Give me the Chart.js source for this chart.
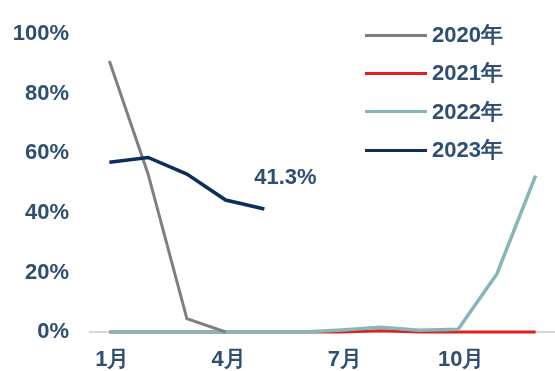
<!DOCTYPE html>
<html>
<head>
<meta charset="utf-8">
<script src="https://cdn.jsdelivr.net/npm/chart.js@4.4.1/dist/chart.umd.min.js"></script>
<style>
  html, body { margin: 0; padding: 0; background: #fff; }
  #wrap { position: relative; width: 555px; height: 371px; overflow: hidden; }
  #legend { position: absolute; left: 365px; top: 16px; font-family: "Liberation Sans", sans-serif; font-size: 22px; font-weight: bold; color: #2F4E72; }
  .row { display: flex; align-items: center; height: 38.3px; }
  .sw { width: 62px; height: 3px; margin-right: 5px; }
</style>
</head>
<body>
<div id="wrap">
  <canvas id="c" width="555" height="371"></canvas>
  <div id="legend"></div>
</div>
<script>
const months = ["1月","2月","3月","4月","5月","6月","7月","8月","9月","10月","11月","12月"];
const shownLabels = ["1月","4月","7月","10月"];
const seriesNames = ["2020年","2021年","2022年","2023年"];
const s2020 = [91, 53, 4.5, 0, null, null, null, null, null, null, null, null];
const s2021 = [0, 0, 0, 0, 0, 0, 0, 0.4, 0, 0, 0, 0];
const s2022 = [0, 0, 0, 0, 0, 0, 0.7, 1.6, 0.6, 0.9, 19.5, 52.5];
const s2023 = [57, 58.6, 53, 44.3, 41.3, null, null, null, null, null, null, null];
const yTicks = [0, 20, 40, 60, 80, 100];
const endLabel = "41.3%";

const colors = ["#7f7f7f", "#e0201c", "#86b6b9", "#0d2d5c"];
const widths = [3, 3, 3.5, 3.5];
const orders = [1, 3, 2, 0];
const allSeries = [s2020, s2021, s2022, s2023];
const textColor = "#2F4E72";
const font = "Liberation Sans";

const endLabelPlugin = {
  id: "endLabel",
  afterDatasetsDraw(chart) {
    const meta = chart.getDatasetMeta(3);
    const idx = s2023.findLastIndex(v => v !== null);
    const pt = meta.data[idx];
    const ctx = chart.ctx;
    ctx.save();
    ctx.font = "bold 22px '" + font + "'";
    ctx.fillStyle = textColor;
    ctx.textAlign = "center";
    ctx.textBaseline = "middle";
    ctx.fillText(endLabel, pt.x + 21, pt.y - 31);
    ctx.restore();
  }
};

const chart = new Chart(document.getElementById("c"), {
  type: "line",
  data: {
    labels: months,
    datasets: allSeries.map((d, i) => ({
      label: seriesNames[i],
      data: d,
      borderColor: colors[i],
      backgroundColor: colors[i],
      borderWidth: widths[i],
      pointRadius: 0,
      tension: 0,
      order: orders[i],
      spanGaps: false,
      clip: 4
    }))
  },
  options: {
    responsive: false,
    animation: false,
    layout: { padding: { left: 11, right: -4, top: 6, bottom: 2 } },
    plugins: {
      legend: { display: false },
      tooltip: { enabled: false }
    },
    scales: {
      x: {
        offset: true,
        grid: { display: false, drawTicks: false },
        border: { display: true, color: "#d9d9d9", width: 2 },
        afterFit: (s) => { s.height = 37; },
        ticks: {
          padding: 15,
          labelOffset: 3,
          color: textColor,
          font: { family: font, size: 22, weight: "bold" },
          autoSkip: false,
          maxRotation: 0,
          callback: function(v) {
            const l = this.getLabelForValue(v);
            return shownLabels.includes(l) ? l : "";
          }
        }
      },
      y: {
        min: 0, max: 100,
        afterBuildTicks: (axis) => { axis.ticks = yTicks.map(v => ({ value: v })); },
        afterFit: (s) => { s.width = 79; },
        grid: { display: false, drawTicks: false },
        border: { display: false },
        ticks: {
          padding: 21,
          color: textColor,
          font: { family: font, size: 22, weight: "bold" },
          callback: v => v + "%"
        }
      }
    }
  },
  plugins: [endLabelPlugin]
});

const legend = document.getElementById("legend");
chart.data.datasets.forEach(ds => {
  const row = document.createElement("div");
  row.className = "row";
  const sw = document.createElement("span");
  sw.className = "sw";
  sw.style.background = ds.borderColor;
  const t = document.createElement("span");
  t.textContent = ds.label;
  row.appendChild(sw);
  row.appendChild(t);
  legend.appendChild(row);
});
</script>
</body>
</html>
